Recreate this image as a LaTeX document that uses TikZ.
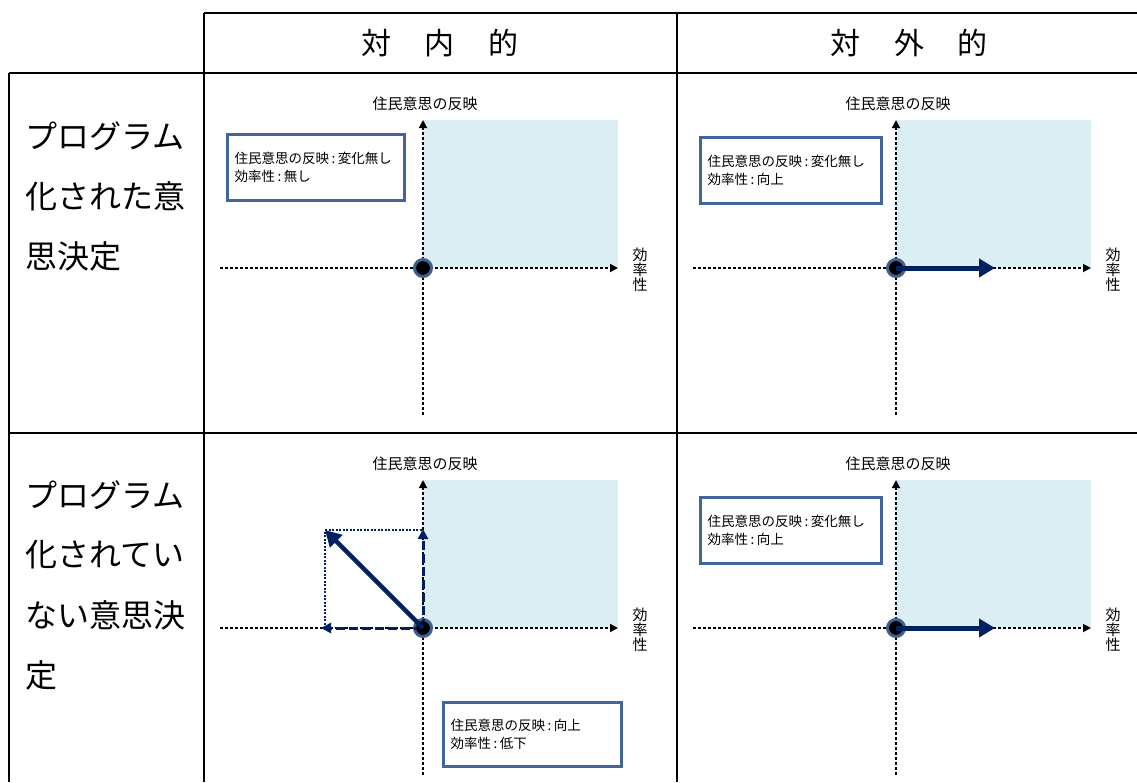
\documentclass[tikz,border=0pt]{standalone}
\usepackage{fontspec}
\setmainfont{Noto Sans CJK JP}
\usetikzlibrary{arrows.meta}
\definecolor{shadeblue}{HTML}{DAEEF3}
\definecolor{boxblue}{HTML}{40669A}
\definecolor{circblue}{HTML}{3E6090}
\definecolor{navy}{HTML}{002060}
\newcommand\cln{\hspace{2.5pt}:\hspace{2.5pt}}
\tikzset{
  grid/.style={line width=2.3pt, black},
  axis/.style={line width=1.8pt, black, dash pattern=on 3pt off 2pt, -{Triangle[length=8pt,width=8pt]}},
  shadebox/.style={fill=shadeblue},
  ylab/.style={font=\fontsize{15}{15}\selectfont, inner sep=0pt},
  xlab/.style={font=\fontsize{15}{15}\selectfont, inner sep=0pt, align=center},
  origin/.style={circle, fill=black, draw=circblue, line width=3pt, minimum size=17pt, inner sep=0pt},
  bigarrow/.style={line width=5pt, navy, -{Triangle[length=16pt,width=18pt]}},
  diagarrow/.style={line width=4.5pt, navy, -{Triangle[length=16pt,width=17pt]}},
  dasharrow/.style={line width=3pt, navy, dash pattern=on 9pt off 4pt, -{Triangle[length=10pt,width=10pt]}},
  thindot/.style={line width=1.2pt, navy, dash pattern=on 2pt off 1.5pt},
  infobox/.style={draw=boxblue, line width=3pt, fill=white, inner sep=7pt, align=left,
    font=\fontsize{13.5}{18}\selectfont, anchor=north west},
  rowlab/.style={font=\fontsize{32}{32}\selectfont, inner sep=0pt, anchor=west},
  headlab/.style={font=\fontsize{30}{30}\selectfont, inner sep=0pt}
}
\newcommand\myquad[3]{%
  \begin{scope}[shift={(#2,#3)}]
    \fill[shadebox] (0,-148) rectangle (195,0);
    \coordinate (#1xl) at (-203,0);
    \coordinate (#1xr) at (195,0);
    \coordinate (#1yb) at (0,147);
    \coordinate (#1yt) at (0,-148);
    \draw[axis] (#1xl) -- (#1xr);
    \draw[axis] (#1yb) -- (#1yt);
    \node[ylab] (#1ylab) at (2,-164) {住民意思の反映};
    \node[xlab] (#1xlab) at (217,2) {効\\率\\性};
  \end{scope}}
\begin{document}
\begin{tikzpicture}[x=1pt,y=-1pt]
\useasboundingbox (0,0) rectangle (1137,782);
% table
\draw[grid] (204,13) -- (1137,13);
\draw[grid] (9,73) -- (1137,73);
\draw[grid] (9,433) -- (1137,433);
\draw[grid] (9,73) -- (9,782);
\draw[grid] (204,13) -- (204,782);
\draw[grid] (677,13) -- (677,782);
% headers
\node[headlab] (h1) at (440,43) {対\hspace{34pt}内\hspace{34pt}的};
\node[headlab] (h2) at (909,43) {対\hspace{34pt}外\hspace{34pt}的};
% row labels
\node[rowlab] (r1a) at (25,136) {プログラム};
\node[rowlab] (r1b) at (25,196) {化された意};
\node[rowlab] (r1c) at (25,256) {思決定};
\node[rowlab] (r2a) at (25,495) {プログラム};
\node[rowlab] (r2b) at (25,555) {化されてい};
\node[rowlab] (r2c) at (25,615) {ない意思決};
\node[rowlab] (r2d) at (25,675) {定};
% panel 1: row 1, inward
\myquad{pa}{423}{268}
\begin{scope}[shift={(423,268)}]
  \node[infobox, text width=163pt, minimum height=66pt] (pabox) at (-197,-135) {住民意思の反映\cln 変化無し\\効率性\cln 無し};
  \node[origin] (pao) at (0,0) {};
\end{scope}
% panel 2: row 1, outward
\myquad{pb}{896}{268}
\begin{scope}[shift={(896,268)}]
  \node[infobox, text width=167pt, minimum height=66pt] (pbbox) at (-197,-132) {住民意思の反映\cln 変化無し\\効率性\cln 向上};
  \node[origin] (pbo) at (0,0) {};
  \coordinate (pbt) at (99,0);
  \draw[bigarrow] (pbo.center) -- (pbt);
\end{scope}
% panel 3: row 2, inward
\myquad{pc}{423}{628}
\begin{scope}[shift={(423,628)}]
  \coordinate (pcc) at (-98,-98);
  \coordinate (pctop) at (0,-98);
  \coordinate (pcleft) at (-98,0);
  \coordinate (pch) at (-102,0);
  \coordinate (pcv) at (0,-99);
  \draw[thindot] (pcleft) -- (pcc) -- (pctop);
  \node[origin] (pco) at (0,0) {};
  \draw[dasharrow] (pco.center) -- (pch);
  \draw[dasharrow] (pco.center) -- (pcv);
  \fill[black] (pco.center) circle (6.5pt);
  \draw[diagarrow] (pco.center) -- (pcc);
  \node[infobox, text width=164pt, minimum height=64pt] (pcbox) at (19,73) {住民意思の反映\cln 向上\\効率性\cln 低下};
\end{scope}
% panel 4: row 2, outward
\myquad{pd}{896}{628}
\begin{scope}[shift={(896,628)}]
  \node[infobox, text width=167pt, minimum height=66pt] (pdbox) at (-197,-132) {住民意思の反映\cln 変化無し\\効率性\cln 向上};
  \node[origin] (pdo) at (0,0) {};
  \coordinate (pdt) at (99,0);
  \draw[bigarrow] (pdo.center) -- (pdt);
\end{scope}
\end{tikzpicture}
\end{document}
